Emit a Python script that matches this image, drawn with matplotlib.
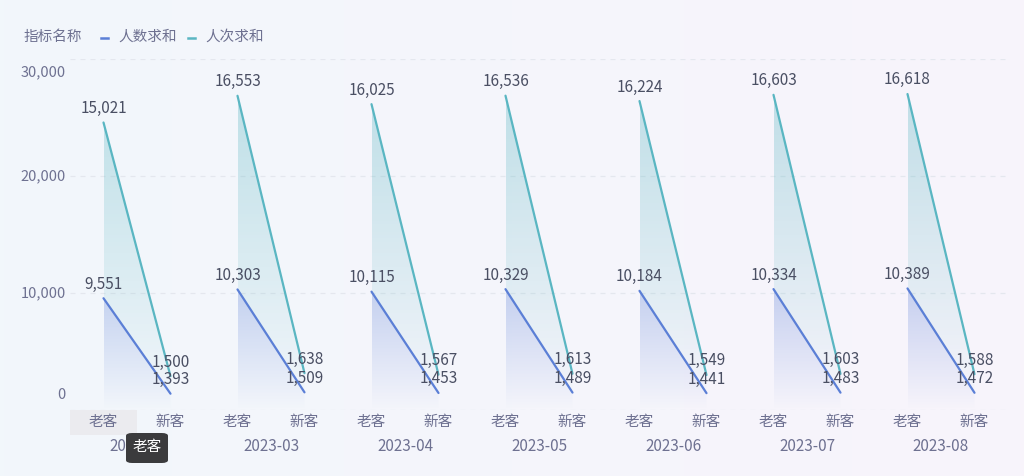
import matplotlib.pyplot as plt
import numpy as np
from matplotlib.patches import Polygon, FancyBboxPatch, Rectangle
from matplotlib.colors import LinearSegmentedColormap

plt.rcParams['font.family'] = ['Noto Sans CJK SC', 'DejaVu Sans']

months = ['2023-02', '2023-03', '2023-04', '2023-05', '2023-06', '2023-07', '2023-08']
cats = ['老客', '新客']
series_names = ['人数求和', '人次求和']
# 人数求和: [老客, 新客] per month
people = [[9551, 1393], [10303, 1509], [10115, 1453], [10329, 1489],
          [10184, 1441], [10334, 1483], [10389, 1472]]
# 人次求和 (stacked on top of 人数求和)
visits = [[15021, 1500], [16553, 1638], [16025, 1567], [16536, 1613],
          [16224, 1549], [16603, 1603], [16618, 1588]]

blue = '#5b7fd6'
teal = '#5ab6c2'
tick_col = '#6e7191'
label_col = '#4a4f63'

W, H = 1024, 476
fig = plt.figure(figsize=(W / 100, H / 100), dpi=100)

# background gradient
bg = fig.add_axes([0, 0, 1, 1], zorder=-10)
bgcmap = LinearSegmentedColormap.from_list('bg', ['#f2f7fb', '#f8f4fb'])
bg.imshow(np.linspace(0, 1, 256)[None, :], cmap=bgcmap, aspect='auto', extent=[0, 1, 0, 1])
bg.set_xlim(0, 1)
bg.set_ylim(0, 1)
bg.axis('off')

left, right = 70 / W, 1008 / W
bottom, top = (H - 410) / H, (H - 59) / H
ax = fig.add_axes([left, bottom, right - left, top - bottom])
ax.patch.set_alpha(0)
ax.set_xlim(-0.5, 2 * len(months) - 0.5)
ax.set_ylim(0, 30000)

for y in [0, 10000, 20000, 30000]:
    ax.axhline(y, color='#e4e7ee', lw=0.9, ls=(0, (4, 4)), zorder=0)

grad = np.linspace(0, 1, 256)[:, None]
blue_cmap = LinearSegmentedColormap.from_list('b', [(0.36, 0.50, 0.84, 0.0), (0.36, 0.50, 0.84, 0.34)])
teal_cmap = LinearSegmentedColormap.from_list('t', [(0.35, 0.71, 0.76, 0.0), (0.35, 0.71, 0.76, 0.36)])

for i, m in enumerate(months):
    x0, x1 = 2 * i, 2 * i + 1
    p0, p1 = people[i]
    v0, v1 = visits[i]
    s0, s1 = p0 + v0, p1 + v1

    # gradient fills
    poly_b = Polygon([[x0, 0], [x0, p0], [x1, p1], [x1, 0]], closed=True, transform=ax.transData, facecolor='none', edgecolor='none')
    ax.add_patch(poly_b)
    im = ax.imshow(grad, cmap=blue_cmap, aspect='auto', origin='lower', extent=[x0, x1, 0, 11000], zorder=1)
    im.set_clip_path(poly_b)

    poly_t = Polygon([[x0, p0], [x0, s0], [x1, s1], [x1, p1]], closed=True, transform=ax.transData, facecolor='none', edgecolor='none')
    ax.add_patch(poly_t)
    im2 = ax.imshow(grad, cmap=teal_cmap, aspect='auto', origin='lower', extent=[x0, x1, 0, 28000], zorder=1)
    im2.set_clip_path(poly_t)

    ax.plot([x0, x1], [p0, p1], color=blue, lw=1.6, zorder=3, solid_capstyle='round')
    ax.plot([x0, x1], [s0, s1], color=teal, lw=1.6, zorder=3, solid_capstyle='round')

    for x, yv, val in [(x0, s0, v0), (x1, s1, v1), (x0, p0, p0), (x1, p1, p1)]:
        ax.annotate(f'{val:,}', (x, yv), xytext=(0, 4), textcoords='offset points',
                    ha='center', va='bottom', fontsize=11, color=label_col, zorder=5)

ax.set_xticks([])
ax.set_yticks([])
for s in ax.spines.values():
    s.set_visible(False)

# y tick labels
for y, ypx in [(0, 395), (10000, 293), (20000, 176), (30000, 72)]:
    fig.text(66 / W, 1 - ypx / H, f'{y:,}', ha='right', va='center', fontsize=10.5, color=tick_col)

# x category labels and month labels
for i, m in enumerate(months):
    for j, c in enumerate(cats):
        ax.text(2 * i + j, -0.033, c, transform=ax.get_xaxis_transform(), ha='center', va='center',
                fontsize=10.5, color=tick_col)
    ax.text(2 * i + 0.5, -0.103, m, transform=ax.get_xaxis_transform(), ha='center', va='center',
            fontsize=11, color=tick_col, zorder=2)

# hover highlight on first category label
fig.patches.append(Rectangle((70 / W, 1 - 435 / H), 67 / W, 25 / H, transform=fig.transFigure,
                             facecolor='#ebebef', edgecolor='none', zorder=-5))

# legend
fig.text(24 / W, 1 - 37 / H, '指标名称', ha='left', va='center', fontsize=10.5, color=tick_col)
for xs, col, name in [(101, blue, series_names[0]), (188, teal, series_names[1])]:
    fig.add_artist(plt.Line2D([xs / W, (xs + 7) / W], [1 - 38 / H, 1 - 38 / H], color=col, lw=1.8,
                              transform=fig.transFigure))
    fig.text((xs + 17) / W, 1 - 37 / H, name, ha='left', va='center', fontsize=10.5, color=tick_col)

# tooltip
tip = FancyBboxPatch((126 / W, 1 - 463 / H), 42 / W, 30 / H, boxstyle='round,pad=0,rounding_size=0.006',
                     transform=fig.transFigure, facecolor='#3b3b3d', edgecolor='none', zorder=10)
fig.patches.append(tip)
fig.text(147 / W, 1 - 447 / H, '老客', ha='center', va='center', fontsize=10.5, color='white', zorder=11)

fig.savefig('out.png', dpi=100)
